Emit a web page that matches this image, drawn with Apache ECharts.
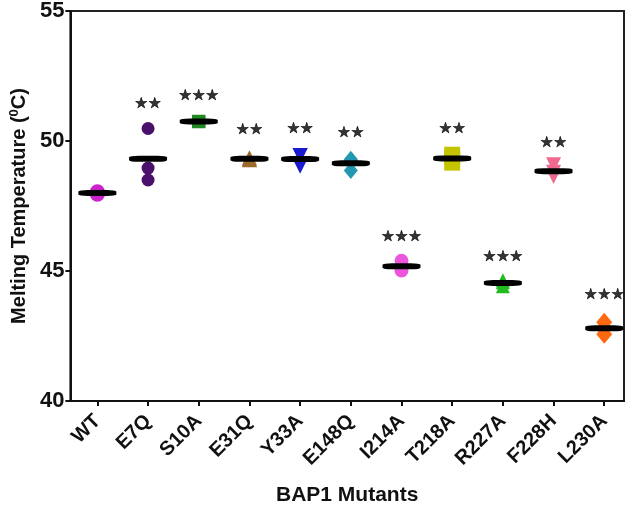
<!DOCTYPE html>
<html>
<head>
<meta charset="utf-8">
<script src="https://cdn.jsdelivr.net/npm/echarts@6/dist/echarts.min.js"></script>
<style>
html,body{margin:0;padding:0;background:#fff;}
#chart{width:630px;height:516px;}
</style>
</head>
<body>
<div id="chart"></div>
<script>
const categories = ['WT','E7Q','S10A','E31Q','Y33A','E148Q','I214A','T218A','R227A','F228H','L230A'];
const pointValues = [
  [48.05, 47.95, 48.0],
  [50.48, 48.96, 48.50],
  [50.74, 50.76, 50.75],
  [49.36, 49.30, 49.28],
  [49.44, 49.44, 49.03],
  [49.30, 49.25, 48.87],
  [45.39, 45.13, 45.02],
  [49.51, 49.35, 49.13],
  [44.64, 44.57, 44.41],
  [49.09, 48.80, 48.63],
  [43.03, 42.78, 42.57]
];
const starLabels = ['', '★★', '★★★', '★★', '★★', '★★', '★★★', '★★', '★★★', '★★', '★★★'];
const starY = [null, 51.43, 51.74, 50.43, 50.47, 50.32, 46.29, 50.47, 45.52, 49.90, 44.07];
const yTicks = [40, 45, 50, 55];

// styles
const colors = ['#cc22cc','#4b106b','#1f8a1f','#9c6a2a','#1a1ad0','#2299b0','#ee55dd','#c4c400','#22bb22','#f06a90','#ff6a10'];
const symbols = ['circle','circle','rect','triangle','triangle','diamond','circle','rect','triangle','triangle','diamond'];
const rotations = [0,0,0,0,180,0,0,0,0,180,0];
const sizes = [15,13,13,15,15,[14,17],14,[16,14],14,15,[16,19]];

const pts = [];
pointValues.forEach((arr, i) => {
  arr.forEach(v => {
    pts.push({value:[i, v], symbol: symbols[i], symbolRotate: rotations[i], symbolSize: sizes[i], itemStyle:{color: colors[i], opacity:1}});
  });
});
const means = pointValues.map((arr, i) => [i, arr.reduce((a,b)=>a+b,0)/arr.length]);
const stars = starY.map((y, i) => y === null ? null : {value:[i, y], label:{formatter: starLabels[i]}}).filter(Boolean);

const FONT = 'Liberation Sans, Arial, sans-serif';
const chart = echarts.init(document.getElementById('chart'), null, {renderer:'canvas'});
chart.setOption({
  animation:false,
  backgroundColor:'#fff',
  grid:{left:70, right:6, top:10, bottom:115, show:true, borderColor:'#222', borderWidth:2, backgroundColor:'transparent'},
  xAxis:{
    type:'value', min:-0.533, max:10.39,
    axisLine:{show:true, onZero:false, lineStyle:{color:'#111', width:2}},
    splitLine:{show:false},
    axisTick:{show:true, customValues:[0,1,2,3,4,5,6,7,8,9,10], length:5, lineStyle:{color:'#111', width:2}},
    axisLabel:{customValues:[0,1,2,3,4,5,6,7,8,9,10], formatter:(v)=>categories[Math.round(v)], rotate:45, margin:17,
      fontFamily:FONT, fontWeight:'bold', fontSize:20, color:'#111'},
    name:'BAP1 Mutants', nameLocation:'middle', nameGap:84,
    nameTextStyle:{fontFamily:FONT, fontWeight:'bold', fontSize:21, color:'#111'}
  },
  yAxis:{
    type:'value', min:40, max:55, interval:5,
    axisLine:{show:true, onZero:false, lineStyle:{color:'#111', width:2}},
    splitLine:{show:false},
    axisTick:{show:true, length:5, lineStyle:{color:'#111', width:2}},
    axisLabel:{margin:6, fontFamily:FONT, fontWeight:'bold', fontSize:22, color:'#111',
      formatter:(v)=> yTicks.indexOf(v) >= 0 ? String(v) : ''},
    name:'Melting Temperature ({sup|0}C)', nameLocation:'middle', nameGap:39,
    nameTextStyle:{fontFamily:FONT, fontWeight:'bold', fontSize:20, color:'#111',
      rich:{sup:{fontFamily:FONT, fontWeight:'bold', fontSize:13, color:'#111', verticalAlign:'top', lineHeight:22}}}
  },
  series:[
    {type:'scatter', data:pts, z:2, itemStyle:{opacity:1}},
    {type:'scatter', data:means, symbol:'roundRect', symbolSize:[38,6], itemStyle:{color:'#000', opacity:1}, z:3},
    {type:'scatter', data:stars, symbolSize:0, z:4,
      label:{show:true, position:'inside', fontFamily:'DejaVu Sans, sans-serif', fontSize:15, color:'#000',
        textBorderColor:'#000', textBorderWidth:0.6}}
  ]
});
</script>
</body>
</html>
